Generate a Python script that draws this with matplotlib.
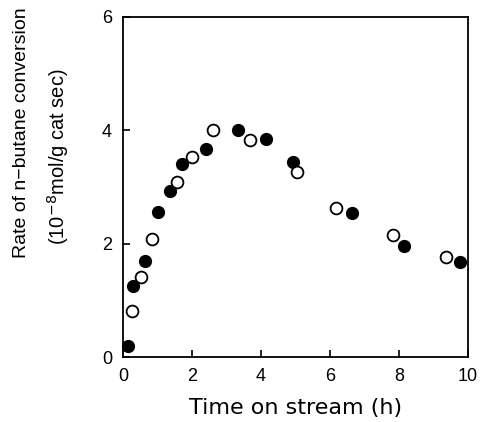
import matplotlib
matplotlib.use("Agg")
import matplotlib.pyplot as plt

plt.rcParams["font.family"] = ["Liberation Sans", "DejaVu Sans"]

# filled circles
t_filled = [0.15, 0.29, 0.63, 1.02, 1.35, 1.70, 2.40, 3.32, 4.15, 4.93, 6.65, 8.14, 9.76]
r_filled = [0.19, 1.25, 1.69, 2.55, 2.92, 3.40, 3.67, 4.00, 3.84, 3.44, 2.54, 1.96, 1.67]

# open circles
t_open = [0.27, 0.51, 0.85, 1.56, 2.00, 2.60, 3.69, 5.03, 6.16, 7.83, 9.37]
r_open = [0.81, 1.42, 2.09, 3.09, 3.52, 4.00, 3.82, 3.26, 2.63, 2.16, 1.76]

xticks = [0, 2, 4, 6, 8, 10]
yticks = [0, 2, 4, 6]

fig = plt.figure(figsize=(4.81, 4.22), dpi=100)
ax = fig.add_axes([0.2557, 0.154, 0.7173, 0.806])

ax.plot(t_filled, r_filled, "o", color="black", markersize=8.5, clip_on=False)
ax.plot(t_open, r_open, "o", markerfacecolor="white", markeredgecolor="black",
        markeredgewidth=1.3, markersize=8.5, clip_on=False)

ax.set_xlim(0, 10)
ax.set_ylim(0, 6)
ax.set_xticks(xticks)
ax.set_yticks(yticks)
ax.tick_params(direction="in", length=5, width=1.2, labelsize=13, pad=8)
for s in ax.spines.values():
    s.set_linewidth(1.3)

fig.text(0.5 * (173 + 418) / 481, 1 - 408 / 422, "Time on stream (h)",
         fontsize=16, family="DejaVu Sans", ha="center", va="center")
fig.text(22 / 481, 1 - 133 / 422, "Rate of n\u2212butane conversion",
         fontsize=14, rotation=90, ha="center", va="center")
fig.text(58 / 481, 1 - 157 / 422, r"(10$^{-8}$mol/g cat sec)",
         fontsize=14.5, rotation=90, ha="center", va="center")

fig.savefig("out.png", dpi=100)
